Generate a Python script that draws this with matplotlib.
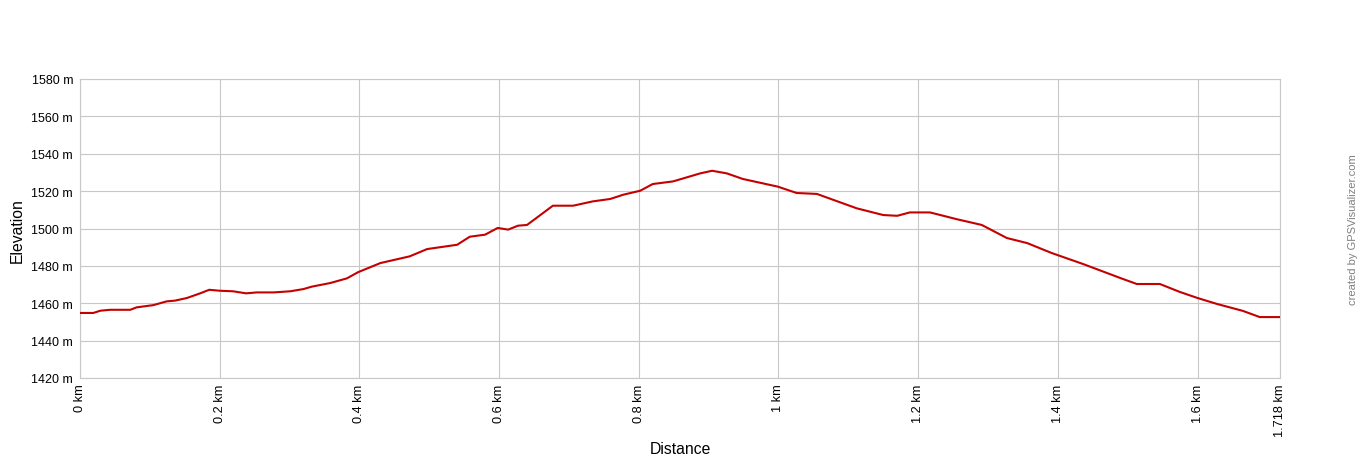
import matplotlib
matplotlib.use('Agg')
import matplotlib.pyplot as plt

plt.rcParams['font.family'] = ['Liberation Sans', 'DejaVu Sans']

# distance (km) and elevation (m)
dist_km = [0.0, 0.019, 0.029, 0.043, 0.072, 0.081, 0.105, 0.124, 0.136, 0.153,
           0.172, 0.185, 0.2, 0.219, 0.238, 0.253, 0.277, 0.301, 0.32, 0.332,
           0.358, 0.382, 0.398, 0.43, 0.472, 0.497, 0.54, 0.558, 0.58, 0.598,
           0.613, 0.627, 0.64, 0.677, 0.706, 0.734, 0.759, 0.778, 0.802, 0.82,
           0.849, 0.888, 0.905, 0.926, 0.949, 0.999, 1.026, 1.055, 1.112, 1.15,
           1.17, 1.188, 1.217, 1.255, 1.291, 1.327, 1.356, 1.391, 1.436, 1.493,
           1.513, 1.546, 1.575, 1.6, 1.628, 1.665, 1.689, 1.718]
elev_m = [1454.8, 1454.8, 1456.0, 1456.5, 1456.5, 1457.8, 1459.0, 1461.0, 1461.4, 1462.8,
          1465.3, 1467.2, 1466.7, 1466.4, 1465.3, 1465.8, 1465.8, 1466.4, 1467.6, 1468.9,
          1470.8, 1473.3, 1476.6, 1481.5, 1485.1, 1489.0, 1491.3, 1495.6, 1496.7, 1500.3,
          1499.4, 1501.5, 1501.9, 1512.2, 1512.2, 1514.5, 1515.8, 1518.1, 1520.2, 1523.8,
          1525.2, 1529.5, 1530.9, 1529.5, 1526.5, 1522.4, 1519.0, 1518.5, 1510.8, 1507.2,
          1506.8, 1508.6, 1508.6, 1505.0, 1501.9, 1494.9, 1492.2, 1486.9, 1481.0, 1473.0,
          1470.3, 1470.3, 1466.0, 1462.8, 1459.6, 1455.9, 1452.6, 1452.6]

x_ticks = [0, 0.2, 0.4, 0.6, 0.8, 1.0, 1.2, 1.4, 1.6, 1.718]
x_labels = ['0 km', '0.2 km', '0.4 km', '0.6 km', '0.8 km', '1 km', '1.2 km',
            '1.4 km', '1.6 km', '1.718 km']
y_ticks = [1420, 1440, 1460, 1480, 1500, 1520, 1540, 1560, 1580]
y_labels = [f'{v} m' for v in y_ticks]

fig = plt.figure(figsize=(13.6, 4.6), dpi=100)
ax = fig.add_axes([80 / 1360, 1 - 379 / 460, 1200 / 1360, 299 / 460])

ax.plot(dist_km, elev_m, color='#c40000', linewidth=1.5, zorder=3)

ax.set_xlim(0, 1.718)
ax.set_ylim(1420, 1580)
ax.set_xticks(x_ticks)
ax.set_xticklabels(x_labels, rotation=90, fontsize=9.2)
ax.set_yticks(y_ticks)
ax.set_yticklabels(y_labels, fontsize=9)
ax.tick_params(axis='x', length=0, pad=4)
ax.tick_params(axis='y', length=0, pad=5)
ax.grid(True, color='#c8c8c8', linewidth=0.8)
for s in ax.spines.values():
    s.set_color('#c8c8c8')
    s.set_linewidth(0.8)

# axis titles at fixed spots so the long tick labels don't push them
fig.text(680 / 1360, 1 - 450 / 460, 'Distance', fontsize=11.3,
         ha='center', va='center')
fig.text(17 / 1360, 1 - 231 / 460, 'Elevation', fontsize=11.3, rotation=90,
         ha='center', va='center')

fig.text(1353 / 1360, 1 - 230 / 460, 'created by GPSVisualizer.com', rotation=90,
         ha='center', va='center', fontsize=8, color='#808080')

fig.savefig('out.png', dpi=100)
